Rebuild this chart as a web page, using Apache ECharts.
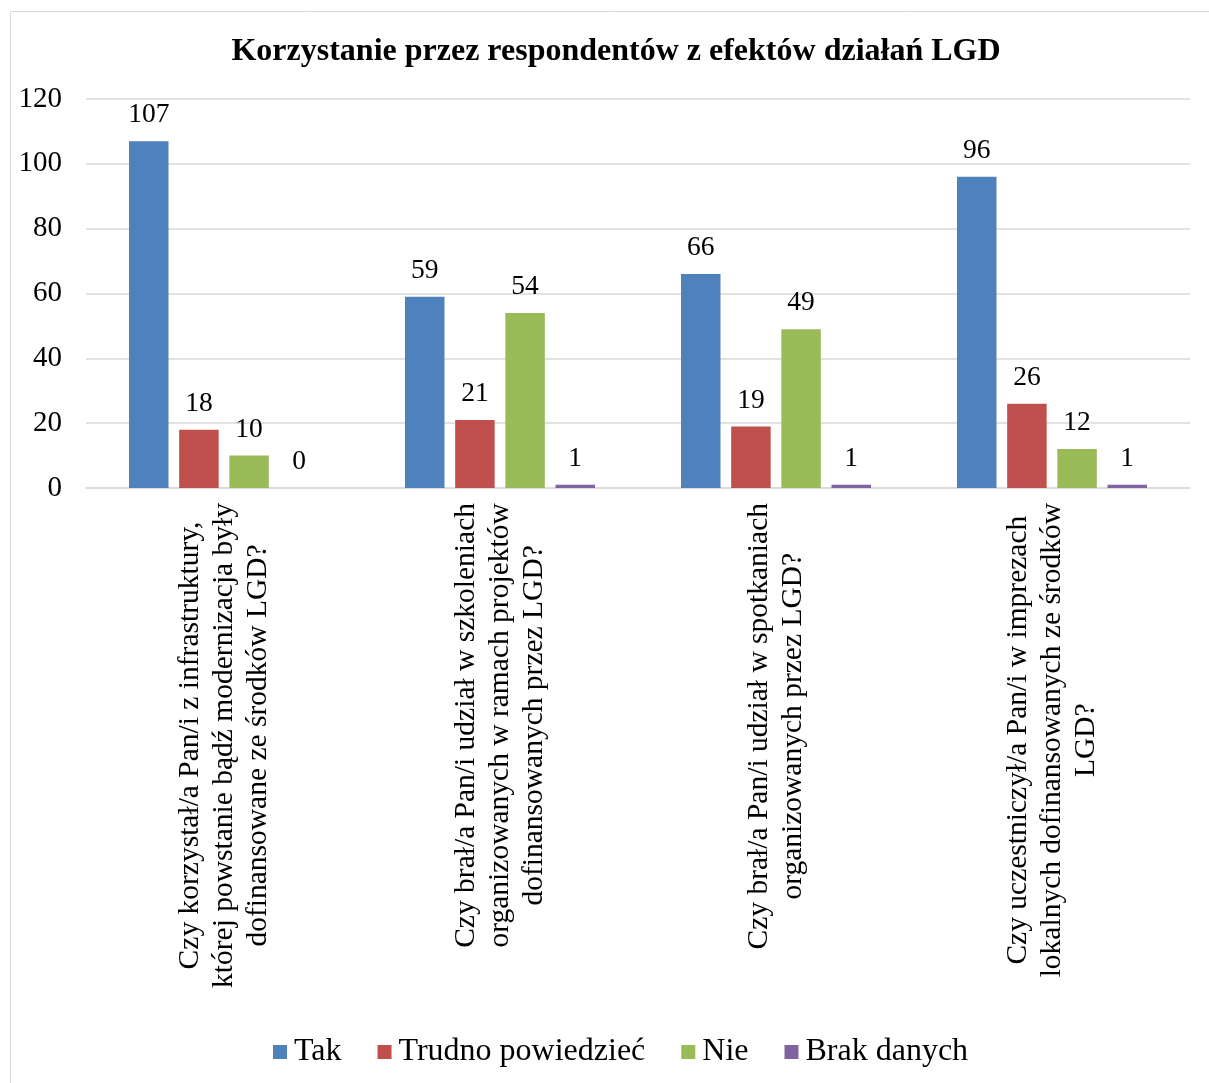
<!DOCTYPE html>
<html>
<head>
<meta charset="utf-8">
<script src="https://cdn.jsdelivr.net/npm/echarts@6/dist/echarts.min.js"></script>
<style>
  html, body { margin: 0; padding: 0; background: #fff; }
  #chart { width: 1209px; height: 1083px; }
</style>
</head>
<body>
<div id="chart"></div>
<script>
// dane z wykresu
const categories = [
    'Czy korzystał/a Pan/i z infrastruktury,\nktórej powstanie bądź modernizacja były\ndofinansowane ze środków LGD?',
    'Czy brał/a Pan/i udział w szkoleniach\norganizowanych w ramach projektów\ndofinansowanych przez LGD?',
    'Czy brał/a Pan/i udział w spotkaniach\norganizowanych przez LGD?',
    'Czy uczestniczył/a Pan/i w imprezach\nlokalnych dofinansowanych ze środków\nLGD?'
];
const seriesNames = ['Tak', 'Trudno powiedzieć', 'Nie', 'Brak danych'];
const tak = [107, 59, 66, 96];
const trudno = [18, 21, 19, 26];
const nie = [10, 54, 49, 12];
const brak = [0, 1, 1, 1];
const colors = ['#4F81BD', '#C0504D', '#9BBB59', '#8064A2'];

const FONT = "'Liberation Serif', 'Times New Roman', serif";

let chart = echarts.init(document.getElementById('chart'));

let option = {
    backgroundColor: '#fff',
    animation: false,
    title: {
        text: 'Korzystanie przez respondentów z efektów działań LGD',
        left: 611,
        textAlign: 'center',
        top: 31,
        textStyle: { fontFamily: FONT, fontSize: 32, fontWeight: 'bold', color: '#000' }
    },
    legend: {
        bottom: 10,
        left: 268,
        itemWidth: 14,
        itemHeight: 14,
        itemGap: 36,
        icon: 'rect',
        textStyle: { fontFamily: FONT, fontSize: 32, color: '#000', padding: [0, 0, 0, 2] },
        data: seriesNames
    },
    // ramka wykresu
    graphic: [{
        type: 'rect',
        shape: { x: 10.5, y: 11.5, width: 1240, height: 1100 },
        style: { fill: 'none', stroke: '#d9d9d9', lineWidth: 1 },
        silent: true
    }],
    grid: {
        left: 86,
        right: 19,
        top: 99,
        bottom: 595,
        outerBoundsMode: 'none'
    },
    xAxis: {
        type: 'category',
        data: categories,
        axisLine: { lineStyle: { color: '#d9d9d9', width: 1.5 } },
        axisTick: { show: false },
        axisLabel: {
            interval: 0,
            rotate: 90,
            margin: 15,
            fontFamily: FONT,
            fontSize: 29.5,
            lineHeight: 34,
            color: '#000',
            // każda linia wyśrodkowana w bloku
            formatter: (val) => val.split('\n').map(l => '{c|' + l + '}').join('\n'),
            rich: {
                c: { align: 'center', fontFamily: FONT, fontSize: 29.5, lineHeight: 34, color: '#000' }
            }
        }
    },
    yAxis: {
        type: 'value',
        min: 0,
        max: 120,
        interval: 20,
        axisLine: { show: false },
        axisTick: { show: false },
        splitLine: { lineStyle: { color: '#d9d9d9', width: 1.5 } },
        axisLabel: { margin: 24, fontFamily: FONT, fontSize: 29, color: '#000' }
    },
    series: [tak, trudno, nie, brak].map((data, i) => ({
        type: 'bar',
        name: seriesNames[i],
        data,
        barWidth: 39.5,
        barGap: '27%',
        itemStyle: { color: colors[i] },
        label: {
            show: true,
            position: 'top',
            distance: 12,
            fontFamily: FONT,
            fontSize: 27.5,
            color: '#000'
        }
    }))
};

chart.setOption(option);
</script>
</body>
</html>
